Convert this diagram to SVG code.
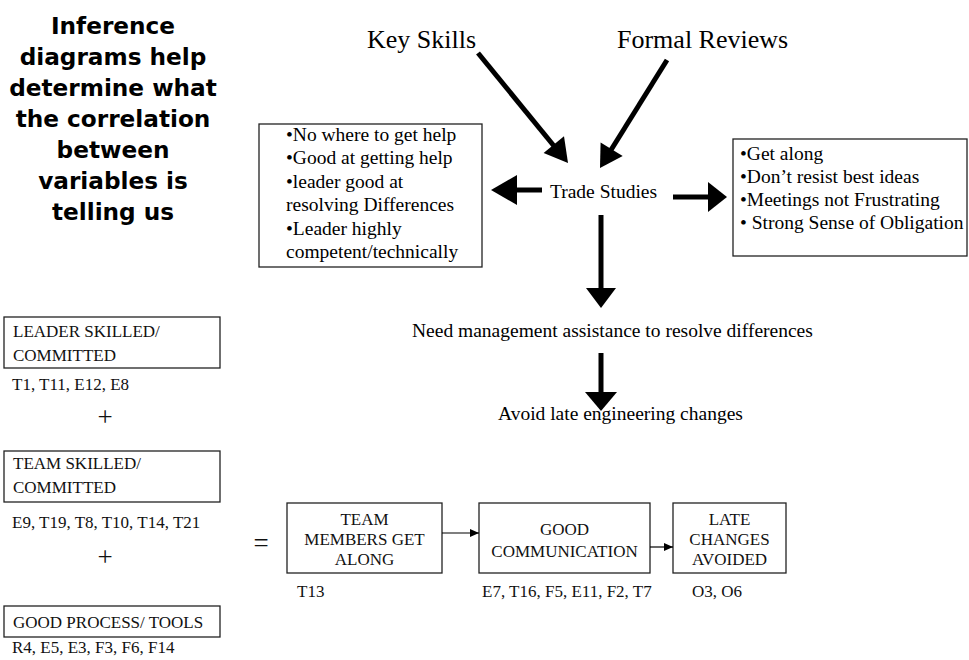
<svg xmlns="http://www.w3.org/2000/svg" width="969" height="660" viewBox="0 0 969 660">
<style>
.title{font-family:"DejaVu Sans","Liberation Sans",sans-serif;font-weight:bold;font-size:23.2px;fill:#000;text-anchor:middle}
.big{font-family:"Liberation Serif","Times New Roman",serif;font-size:26px;fill:#000}
.mid{font-family:"Liberation Serif","Times New Roman",serif;font-size:19.5px;fill:#000}
.sm{font-family:"Liberation Serif","Times New Roman",serif;font-size:17px;fill:#111}
.ctr{text-anchor:middle}
.box{fill:#fff;stroke:#222;stroke-width:1.3}
.thick{stroke:#000;stroke-width:5;fill:none}
.thin{stroke:#000;stroke-width:1.2;fill:none}
.head{fill:#000}
.op{font-family:"Liberation Serif","Times New Roman",serif;font-size:27px;fill:#111;text-anchor:middle}
</style>
<defs>
<marker id="sm-arrow" markerUnits="userSpaceOnUse" markerWidth="10" markerHeight="10" viewBox="0 -5 10 10" refX="9" refY="0" orient="auto">
<path d="M0,-4 L9,0 L0,4 z" fill="#000"/>
</marker>
</defs>
<rect width="969" height="660" fill="#fff"/>

<g id="title">
<text class="title" x="113" y="34">Inference</text>
<text class="title" x="113" y="65">diagrams help</text>
<text class="title" x="113" y="96">determine what</text>
<text class="title" x="113" y="127">the correlation</text>
<text class="title" x="113" y="158">between</text>
<text class="title" x="113" y="189">variables is</text>
<text class="title" x="113" y="220">telling us</text>
</g>

<g id="key-skills"><text class="big" x="367" y="48">Key Skills</text></g>
<g id="formal-reviews"><text class="big" x="617" y="48">Formal Reviews</text></g>
<g id="trade-studies"><text class="mid" x="550" y="198">Trade Studies</text></g>

<g id="help-box">
<rect class="box" x="259" y="124" width="223" height="143"/>
<text class="mid" x="286" y="141">•No where to get help</text>
<text class="mid" x="286" y="164.4">•Good at getting help</text>
<text class="mid" x="286" y="187.8">•leader good at</text>
<text class="mid" x="286" y="211.2">resolving Differences</text>
<text class="mid" x="286" y="234.6">•Leader highly</text>
<text class="mid" x="286" y="258">competent/technically</text>
</g>

<g id="getalong-box">
<rect class="box" x="733" y="139" width="234" height="117"/>
<text class="mid" x="740" y="160">•Get along</text>
<text class="mid" x="740" y="183">•Don’t resist best ideas</text>
<text class="mid" x="740" y="206">•Meetings not Frustrating</text>
<text class="mid" x="740" y="229">• Strong Sense of Obligation</text>
</g>

<g id="need-mgmt"><text class="mid" x="412" y="337" font-size="20">Need management assistance to resolve differences</text></g>
<g id="avoid-late"><text class="mid" x="498" y="420" font-size="20">Avoid late engineering changes</text></g>

<g id="leader">
<rect class="box" x="4" y="317" width="216" height="51"/>
<text class="sm" x="13" y="337">LEADER SKILLED/</text>
<text class="sm" x="13" y="361">COMMITTED</text>
<text class="sm" x="12" y="390">T1, T11, E12, E8</text>
</g>
<g id="plus1"><text class="op" x="105" y="426">+</text></g>
<g id="team-skilled">
<rect class="box" x="4" y="451" width="216" height="51"/>
<text class="sm" x="13" y="469">TEAM SKILLED/</text>
<text class="sm" x="13" y="493">COMMITTED</text>
<text class="sm" x="12" y="528">E9, T19, T8, T10, T14, T21</text>
</g>
<g id="plus2"><text class="op" x="105" y="566">+</text></g>
<g id="process">
<rect class="box" x="4" y="606" width="216" height="31"/>
<text class="sm" x="13" y="628">GOOD PROCESS/ TOOLS</text>
<text class="sm" x="12" y="653">R4, E5, E3, F3, F6, F14</text>
</g>
<g id="equals"><text class="op" x="261" y="552">=</text></g>

<g id="team-members">
<rect class="box" x="287" y="503" width="155" height="70"/>
<text class="sm ctr" x="364.5" y="525">TEAM</text>
<text class="sm ctr" x="364.5" y="545">MEMBERS GET</text>
<text class="sm ctr" x="364.5" y="565">ALONG</text>
<text class="sm" x="297" y="597">T13</text>
</g>
<g id="good-comm">
<rect class="box" x="479" y="503" width="171" height="70"/>
<text class="sm ctr" x="564.5" y="535">GOOD</text>
<text class="sm ctr" x="564.5" y="557">COMMUNICATION</text>
<text class="sm" x="482" y="597">E7, T16, F5, E11, F2, T7</text>
</g>
<g id="late-changes">
<rect class="box" x="673" y="503" width="113" height="70"/>
<text class="sm ctr" x="729.5" y="525">LATE</text>
<text class="sm ctr" x="729.5" y="545">CHANGES</text>
<text class="sm ctr" x="729.5" y="565">AVOIDED</text>
<text class="sm" x="692" y="597">O3, O6</text>
</g>

<g id="connectors">
<line class="thick" x1="478" y1="53" x2="554" y2="146"/>
<polygon class="head" points="568,163 543.6,152.9 564.0,136.2"/>
<line class="thick" x1="667" y1="60" x2="611" y2="150"/>
<polygon class="head" points="600,168 600.6,142.5 622.7,156.1"/>
<line class="thick" x1="542" y1="190" x2="515" y2="190"/>
<polygon class="head" points="491,190 517,175 517,205"/>
<line class="thick" x1="673" y1="197" x2="710" y2="197"/>
<polygon class="head" points="727,197 708,182 708,212"/>
<line class="thick" x1="601" y1="215" x2="601" y2="290"/>
<polygon class="head" points="601,308 586,288 616,288"/>
<line class="thick" x1="601" y1="353" x2="601" y2="394"/>
<polygon class="head" points="601,411 585,392 617,392"/>
<line class="thin" x1="442" y1="533" x2="479" y2="533" marker-end="url(#sm-arrow)"/>
<line class="thin" x1="650" y1="547" x2="673" y2="547" marker-end="url(#sm-arrow)"/>
</g>
</svg>
